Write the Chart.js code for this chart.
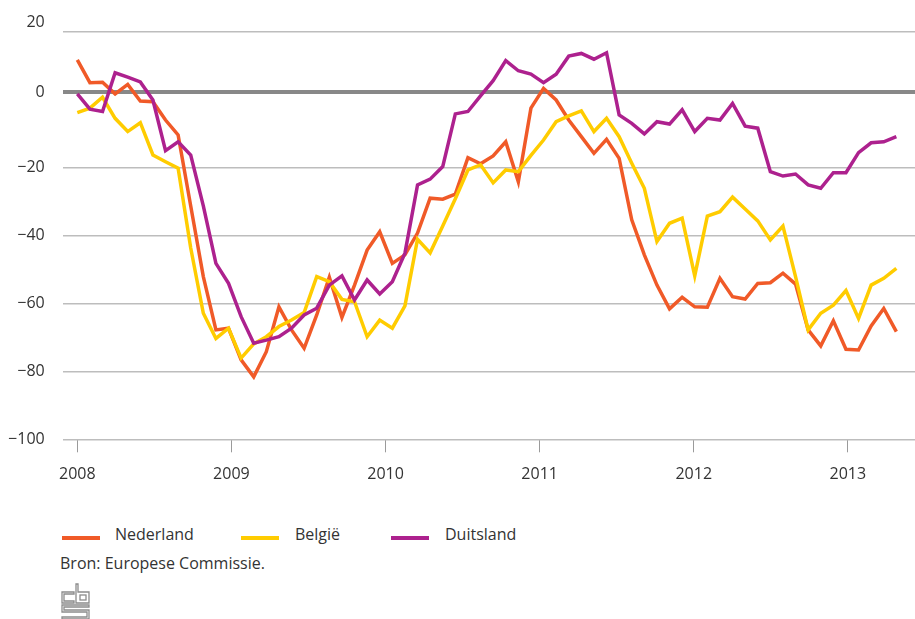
<!DOCTYPE html>
<html lang="nl">
<head>
<meta charset="utf-8">
<title>Consumentenvertrouwen</title>
<script src="https://cdn.jsdelivr.net/npm/chart.js@4.4.1/dist/chart.umd.min.js"></script>
<style>
  body { margin: 0; background: #fff; }
  #wrap { position: relative; width: 915px; height: 619px; overflow: hidden; font-family: "Open Sans", sans-serif; color: #333; }
  #chart { position: absolute; left: 0; top: 0; }
  .lbl { position: absolute; font-size: 16px; line-height: 22px; white-space: nowrap; }
  .swatch { position: absolute; width: 38px; height: 4px; }
  #logo { position: absolute; left: 61px; top: 583px; }
</style>
</head>
<body>
<div id="wrap">
  <canvas id="chart" width="915" height="490"></canvas>
  <div id="legend"></div>
  <div class="lbl" style="left:60px; top:552px;">Bron: Europese Commissie.</div>
  <svg id="logo" width="30" height="36" viewBox="0 0 30 36" fill="none" stroke="#8c8c8c" stroke-width="1.3">
    <path d="M1 9 H13 V11 H3 V18 H13 V20 H1 Z"/>
    <path d="M15 1 H17 V9 H28 V20 H15 Z"/>
    <rect x="19" y="12" width="6" height="5"/>
    <path d="M1 22 H28 V24 H3 V27 H28 V36 H1 V34 H26 V29 H1 Z"/>
  </svg>
</div>
<script>
// monthly values, Jan 2008 .. Jun 2013
const seriesNames = ['Nederland', 'België', 'Duitsland'];
const seriesColors = ['#f05a28', '#ffcc00', '#ad218e'];

const nederland = [11.7, 5.0, 5.1, 1.7, 4.5, -0.4, -0.6, -6.0, -10.4, -31.3,
  -52.1, -67.8, -67.3, -76.6, -81.6, -74.2, -61.0, -67.8, -73.2, -63.4,
  -52.3, -64.1, -54.6, -44.3, -38.9, -48.2, -45.7, -39.3, -29.0, -29.3,
  -27.8, -17.1, -18.9, -16.6, -12.4, -24.2, -2.5, 3.3, -0.1, -6.0,
  -10.9, -15.8, -11.7, -17.3, -35.4, -45.7, -54.6, -61.6, -58.2, -61.0,
  -61.1, -52.6, -58.0, -58.7, -54.1, -53.9, -51.1, -54.3, -67.8, -72.5,
  -65.1, -73.5, -73.7, -66.6, -61.5, -68.3];
const belgie = [-3.8, -2.5, 0.7, -5.5, -9.4, -6.8, -16.3, -18.3, -20.2, -43.7,
  -62.9, -70.3, -67.3, -76.1, -71.9, -69.8, -66.8, -64.9, -62.7, -52.1,
  -53.6, -58.8, -59.5, -69.8, -64.9, -67.3, -60.7, -41.1, -45.1, -37.2,
  -29.2, -20.7, -19.2, -24.5, -20.7, -21.2, -16.4, -11.9, -6.5, -4.8,
  -3.3, -9.4, -5.5, -10.9, -18.7, -26.1, -41.8, -36.4, -34.9, -51.9,
  -34.3, -33.0, -28.7, -32.2, -35.7, -41.3, -37.2, -52.1, -67.8, -62.9,
  -60.5, -56.2, -64.4, -54.6, -52.6, -49.7];
const duitsland = [1.7, -2.8, -3.5, 7.9, 6.6, 5.2, -0.1, -15.0, -12.4, -16.3,
  -31.3, -48.2, -54.1, -63.9, -71.7, -70.8, -69.8, -67.3, -63.4, -61.4,
  -54.6, -51.9, -59.0, -53.1, -57.2, -53.6, -45.2, -25.1, -23.4, -19.7,
  -4.2, -3.5, 1.1, 5.6, 11.5, 8.5, 7.5, 5.0, 7.5, 12.8,
  13.6, 11.9, 13.8, -4.5, -7.0, -10.1, -6.5, -7.2, -3.0, -9.4,
  -5.5, -6.0, -1.1, -7.8, -8.4, -21.2, -22.5, -21.9, -25.1, -26.1,
  -21.5, -21.5, -15.6, -12.7, -12.4, -10.9];

const yearLabels = ['2008', '2009', '2010', '2011', '2012', '2013'];
const yTicks = [-100, -80, -60, -40, -20, 0, 20];

// the source draws its year ticks a bit wider apart than 12 months,
// and its zero line slightly above the true zero
const yearStep = 12.23;
const zeroLine = 2.25;

const allValues = [nederland, belgie, duitsland];

// legend
const legend = document.getElementById('legend');
const legendX = [[62, 115], [241, 295], [391, 445]];
seriesNames.forEach((name, i) => {
  legend.insertAdjacentHTML('beforeend',
    `<div class="swatch" style="left:${legendX[i][0]}px; top:536px; background:${seriesColors[i]}"></div>
     <div class="lbl" style="left:${legendX[i][1]}px; top:523px;">${name}</div>`);
});

const font = { family: 'Open Sans', size: 16 };

new Chart(document.getElementById('chart').getContext('2d'), {
  type: 'line',
  data: {
    datasets: allValues.map((vals, i) => ({
      label: seriesNames[i],
      data: vals.map((v, m) => ({ x: m, y: v })),
      borderColor: seriesColors[i],
      borderWidth: 3.5,
      pointRadius: 0,
      tension: 0,
      fill: false,
      order: [3, 2, 1][i]
    }))
  },
  options: {
    responsive: false,
    animation: false,
    layout: { padding: { top: 31.7, left: 0, right: 0, bottom: 0 } },
    plugins: { legend: { display: false }, tooltip: { enabled: false } },
    scales: {
      x: {
        type: 'linear',
        min: -1.16,
        max: 66.48,
        afterBuildTicks: sc => { sc.ticks = yearLabels.map((y, k) => ({ value: k * yearStep })); },
        afterFit: sc => { sc.height = 490 - 439.3; sc.paddingLeft = 0; sc.paddingRight = 0; },
        ticks: {
          autoSkip: false,
          maxRotation: 0,
          padding: 13,
          color: '#333',
          font: font,
          callback: (v, idx) => yearLabels[idx]
        },
        grid: { drawOnChartArea: false, tickLength: 13, color: '#9a9a9a', lineWidth: 1 },
        border: { display: false }
      },
      y: {
        min: -100,
        max: 20,
        afterBuildTicks: sc => { sc.ticks = yTicks.map(v => ({ value: v === 0 ? zeroLine : v })); },
        afterFit: sc => { sc.width = 62.7; sc.paddingTop = 0; sc.paddingBottom = 0; },
        ticks: {
          padding: 18,
          color: '#333',
          font: font,
          callback: v => {
            if (v === zeroLine) return '0';
            if (v === 20) return ['20', ''];
            return v < 0 ? '\u2212' + Math.abs(v) : String(v);
          }
        },
        grid: {
          drawTicks: false,
          color: c => c.tick && c.tick.value === zeroLine ? '#888888' : '#bdbdbd',
          lineWidth: c => c.tick && c.tick.value === zeroLine ? 4 : 1.5
        },
        border: { display: false }
      }
    }
  }
});
</script>
</body>
</html>
